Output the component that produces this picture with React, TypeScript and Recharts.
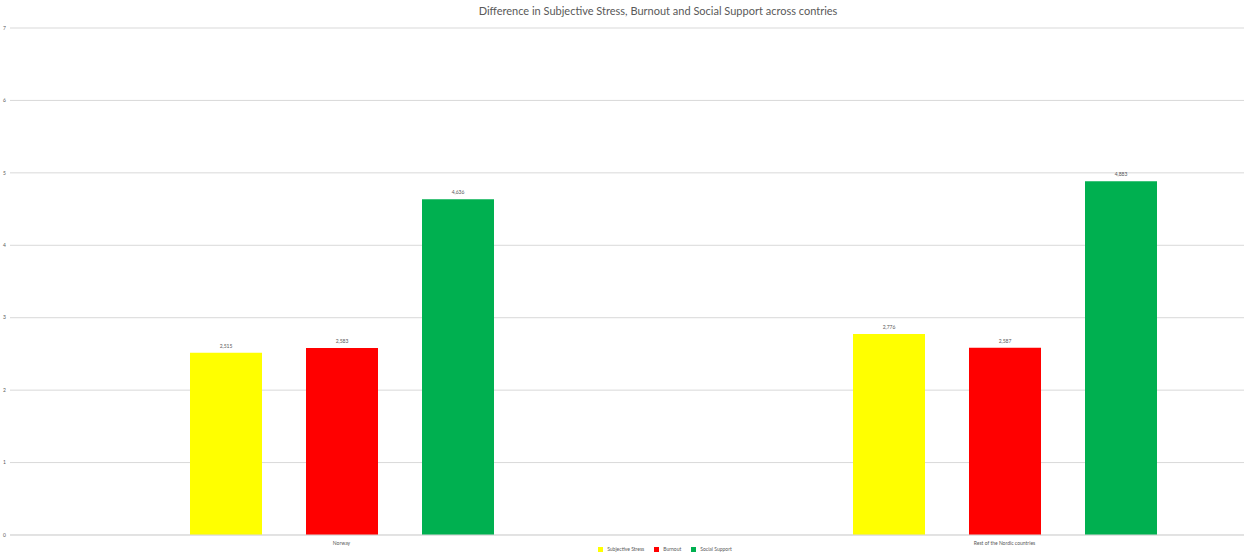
import React from 'react';
import {
  BarChart,
  Bar,
  XAxis,
  YAxis,
  CartesianGrid,
  Legend,
  LabelList
} from 'recharts';

const countries = ['Norway', 'Rest of the Nordic countries'];
const subjectiveStress = [2.515, 2.776];
const burnout = [2.583, 2.587];
const socialSupport = [4.636, 4.883];
const yTicks = [0, 1, 2, 3, 4, 5, 6, 7];

const data = countries.map((country, i) => ({
  country,
  stress: subjectiveStress[i],
  burnout: burnout[i],
  support: socialSupport[i]
}));

const FONT = 'Lato, "Open Sans", sans-serif';
const TEXT = '#595959';

// comma as decimal separator, three places
const fmt = (v: any) => Number(v).toFixed(3).replace('.', ',');

const App: React.FC = () => {
  return (
    <div
      style={{
        position: 'fixed',
        top: 0,
        left: 0,
        width: 1244,
        height: 554,
        overflow: 'hidden',
        background: '#fff',
        fontFamily: FONT
      }}
    >
      <div
        style={{
          position: 'absolute',
          top: 4,
          left: 658,
          transform: 'translateX(-50%)',
          whiteSpace: 'nowrap',
          fontSize: 11,
          color: TEXT
        }}
      >
        Difference in Subjective Stress, Burnout and Social Support across contries
      </div>
      <BarChart
        width={1340}
        height={554}
        data={data}
        margin={{ top: 28, right: 4, bottom: 0, left: 0 }}
        barCategoryGap={180}
        barGap={44}
      >
        <CartesianGrid vertical={false} stroke="#d9d9d9" />
        <XAxis
          dataKey="country"
          height={10}
          tickLine={false}
          tickSize={0}
          tickMargin={6}
          axisLine={{ stroke: '#d9d9d9' }}
          tick={{ fontSize: 5, fill: TEXT, fontFamily: FONT }}
        />
        <YAxis
          width={10}
          domain={[0, 7]}
          ticks={yTicks}
          axisLine={false}
          tickLine={false}
          tickSize={0}
          tickMargin={4}
          tick={{ fontSize: 5, fill: TEXT, fontFamily: FONT }}
        />
        <Legend
          verticalAlign="bottom"
          iconType="square"
          iconSize={5}
          itemSorter={null}
          wrapperStyle={{ fontSize: 5, color: TEXT, left: 0, width: 1340, lineHeight: '8px', height: 9 }}
          formatter={(value) => <span style={{ color: TEXT }}>{value}</span>}
        />
        <Bar dataKey="stress" name="Subjective Stress" fill="#ffff00" isAnimationActive={false}>
          <LabelList dataKey="stress" position="top" offset={5} formatter={fmt} style={{ fontSize: 5, fill: TEXT, fontFamily: FONT }} />
        </Bar>
        <Bar dataKey="burnout" name="Burnout" fill="#ff0000" isAnimationActive={false}>
          <LabelList dataKey="burnout" position="top" offset={5} formatter={fmt} style={{ fontSize: 5, fill: TEXT, fontFamily: FONT }} />
        </Bar>
        <Bar dataKey="support" name="Social Support" fill="#00b050" isAnimationActive={false}>
          <LabelList dataKey="support" position="top" offset={5} formatter={fmt} style={{ fontSize: 5, fill: TEXT, fontFamily: FONT }} />
        </Bar>
      </BarChart>
    </div>
  );
};

export default App;
